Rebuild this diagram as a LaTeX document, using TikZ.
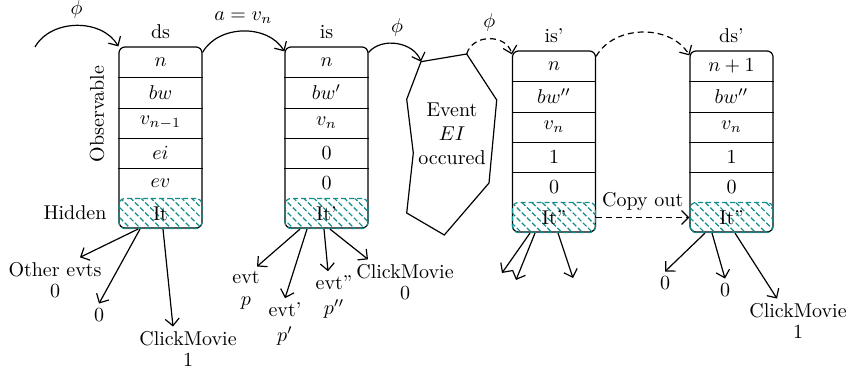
\documentclass[tikz,border=0pt]{standalone}
\usepackage{amsmath}
\usetikzlibrary{positioning, patterns.meta, arrows.meta}
\definecolor{hatch}{RGB}{18,140,140}
\tikzset{
    frame/.style={draw, rounded corners=3pt, minimum width=41.5pt, minimum height=90.5pt, inner sep=0pt},
    cell/.style={minimum width=41.5pt, minimum height=15.15pt, inner sep=0pt},
    hidden/.style={draw=hatch, dash pattern=on 2.5pt off 1.5pt, pattern={Lines[angle=-45, distance=3.6pt, line width=0.6pt]},
        pattern color=hatch, rounded corners=3pt, minimum width=41.5pt, minimum height=15pt, inner sep=0pt},
    lbl/.style={align=center, inner sep=2pt, font=\linespread{0.9}\selectfont},
    flowdash/.style={dash pattern=on 3pt off 2pt}
}

\begin{document}
\begin{tikzpicture}[x=0.5pt, y=-0.5pt, line width=0.6pt, >={Straight Barb[length=3.5pt,width=7pt]}]
    \useasboundingbox (0,0) rectangle (849,373);

    % state columns
    \foreach \bx/\cx/\ty/\title/\labs/\hid in {
        ds/160.5/47/ds/{$n$,$bw$,$v_{n-1}$,$ei$,$ev$}/It,
        is/326.5/47/is/{$n$,$bw'$,$v_n$,0,0}/It',
        isp/554/51/is'/{$n$,$bw''$,$v_n$,1,0}/It'',
        dsp/731.5/51/ds'/{$n+1$,$bw''$,$v_n$,1,0}/It''}
    {
        \node[frame] (\bx) at (\cx,{\ty+90.5}) {};
        \node[above=0pt of \bx] (\bx-t) {\title};
        \foreach \lab [count=\i] in \labs
            \node[cell] (\bx-\i) at (\cx,{\ty+30.3*(\i-0.5)}) {\lab};
        \foreach \i in {1,...,4}
            \draw (\bx-\i.south west) -- (\bx-\i.south east);
        \node[hidden] (\bx-h) at (\cx,{\ty+166.5}) {\hid};
    }

    \node[rotate=90] (obs) at (97,114) {Observable};
    \node (hid) at (75,213) {Hidden};

    % event
    \coordinate (e1) at (421,61.7);
    \coordinate (e2) at (466.7,54);
    \coordinate (e3) at (496.7,100);
    \coordinate (e4) at (489,183);
    \coordinate (e5) at (444.3,235);
    \coordinate (e6) at (406.7,213);
    \coordinate (e7) at (413.3,153);
    \coordinate (e8) at (406.7,99.3);
    \draw (e1) -- (e2) -- (e3) -- (e4) -- (e5) -- (e6) -- (e7) -- (e8) -- cycle;
    \node[align=center] (ev) at (452,134) {Event\\$EI$\\occured};

    % transitions
    \coordinate (in) at (35,47);
    \draw[->] (in) to[bend left=60] node[above] {$\phi$} (ds.north west);
    \draw[->] ([yshift=-3pt]ds.north east) to[bend left=60] node[above] {$a=v_n$} ([yshift=-2.5pt]is.north west);
    \draw[->] ([yshift=-3pt]is.north east) to[bend left=60] node[above] {$\phi$} (e1);
    \draw[->, flowdash] (e2) to[bend left=75, looseness=1.2] node[above] {$\phi$} ([yshift=-2pt]isp.north west);
    \draw[->, flowdash] ([yshift=-3pt]isp.north east) to[bend left=60] ([yshift=-2.5pt]dsp.north west);
    \draw[->, flowdash] (isp-h.east) -- node[above] {Copy out} (dsp-h.west);

    % hidden values of ds
    \node[lbl] (ds-o) at (55,280) {Other evts\\0};
    \node[lbl] (ds-z) at (99,315) {0};
    \node[lbl] (ds-c) at (188,349) {ClickMovie\\1};
    \draw[->] ([xshift=-11.25pt]ds-h.south) -- ([xshift=12.5pt]ds-o.north);
    \draw[->] ([xshift=-10.25pt]ds-h.south) -- (ds-z.north);
    \draw[->] ([xshift=1.25pt]ds-h.south) -- ([xshift=-7.5pt]ds-c.north);

    % hidden values of is
    \node[lbl] (is-p) at (246,290) {evt\\$p$};
    \node[lbl] (is-q) at (285,324) {evt'\\[1.5pt]$p'$};
    \node[lbl] (is-r) at (334,297) {evt''\\[1.5pt]$p''$};
    \node[lbl] (is-c) at (405,282) {ClickMovie\\0};
    \draw[->] ([xshift=-13.25pt]is-h.south) -- ([xshift=5.5pt]is-p.north);
    \draw[->] ([xshift=-9.75pt]is-h.south) -- (is-q.north);
    \draw[->] ([xshift=-1.25pt]is-h.south) -- ([xshift=-3pt]is-r.north);
    \draw[->] ([xshift=1.75pt]is-h.south) -- ([xshift=-18.5pt]is-c.north);

    % hidden values of is'
    \coordinate (isp-a) at (502,273);
    \coordinate (isp-b) at (516,280);
    \coordinate (isp-c) at (573,278);
    \draw[->] ([xshift=-12pt]isp-h.south) -- (isp-a);
    \draw[->] ([xshift=-9.5pt]isp-h.south) -- (isp-b);
    \draw[->] ([xshift=2pt]isp-h.south) -- (isp-c);

    % hidden values of ds'
    \node[lbl] (dsp-z1) at (665,283) {0};
    \node[lbl] (dsp-z2) at (725,290) {0};
    \node[lbl] (dsp-c) at (798,321) {ClickMovie\\1};
    \draw[->] ([xshift=-13.25pt]dsp-h.south) -- (dsp-z1.north);
    \draw[->] ([xshift=-9.75pt]dsp-h.south) -- (dsp-z2.north);
    \draw[->] ([xshift=1.75pt]dsp-h.south) -- ([xshift=-10.5pt]dsp-c.north);
\end{tikzpicture}
\end{document}
